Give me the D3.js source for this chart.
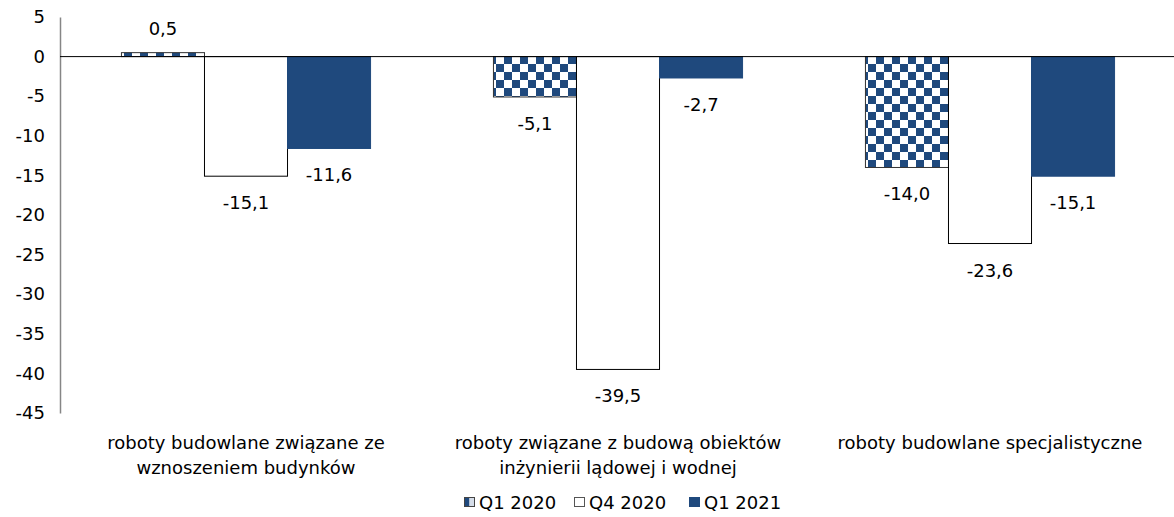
<!DOCTYPE html>
<html>
<head>
<meta charset="utf-8">
<script src="https://cdn.jsdelivr.net/npm/d3@7"></script>
<style>
  body { margin: 0; background: #fff; }
  svg text { font-family: "DejaVu Sans", Verdana, sans-serif; fill: #000; font-size: 18px; }
</style>
</head>
<body>
<svg id="chart" width="1174" height="517"></svg>
<script>
// Categories (two-line labels) and series
const categories = [
  ["roboty budowlane związane ze", "wznoszeniem budynków"],
  ["roboty związane z budową obiektów", "inżynierii lądowej i wodnej"],
  ["roboty budowlane specjalistyczne"]
];
const seriesNames = ["Q1 2020", "Q4 2020", "Q1 2021"];
const q1_2020 = [0.5, -5.1, -14.0];
const q4_2020 = [-15.1, -39.5, -23.6];
const q1_2021 = [-11.6, -2.7, -15.1];
const yTicks = [5, 0, -5, -10, -15, -20, -25, -30, -35, -40, -45];

const seriesValues = [q1_2020, q4_2020, q1_2021];
const navy = "#1F497D";

const svg = d3.select("#chart");
const defs = svg.append("defs");
const pat = defs.append("pattern")
  .attr("id", "checker")
  .attr("patternUnits", "userSpaceOnUse")
  .attr("width", 16).attr("height", 16);
pat.append("rect").attr("width", 16).attr("height", 16).attr("fill", "#fff");
pat.append("rect").attr("width", 8).attr("height", 8).attr("fill", navy);
pat.append("rect").attr("x", 8).attr("y", 8).attr("width", 8).attr("height", 8).attr("fill", navy);

const fills = ["url(#checker)", "#fff", navy];
const strokes = ["#333", "#000", navy];

const margin = { left: 60, right: 0, top: 17, bottom: 104 };
const W = 1174, H = 517;

const y = d3.scaleLinear().domain([-45, 5]).range([H - margin.bottom, margin.top]);
const x0 = d3.scaleBand().domain(d3.range(categories.length))
  .range([margin.left, 1176]).paddingInner(0).paddingOuter(0);
const x1 = d3.scaleBand().domain(d3.range(seriesNames.length))
  .range([0, x0.bandwidth()]).paddingOuter(0.74).paddingInner(0);

const fmt = v => d3.format(".1f")(v).replace("−", "-").replace(".", ",");

// y axis
const yAxis = d3.axisLeft(y).tickValues(yTicks).tickSize(0).tickPadding(0)
  .tickFormat(d => String(d));
const gy = svg.append("g").attr("transform", `translate(${margin.left},0)`).call(yAxis);
gy.select(".domain").attr("stroke", "#868686").attr("stroke-width", 1.5);
gy.selectAll("text")
  .attr("x", -15)
  .attr("text-anchor", "end")
  .attr("font-family", null)
  .attr("font-size", null);

// bars
const groups = svg.append("g").selectAll("g")
  .data(categories).join("g")
  .attr("transform", (d, i) => `translate(${x0(i)},0)`);

groups.each(function(_, ci) {
  const g = d3.select(this);
  seriesValues.forEach((vals, si) => {
    const v = vals[ci];
    g.append("rect")
      .attr("x", x1(si))
      .attr("y", y(Math.max(0, v)))
      .attr("width", x1.bandwidth())
      .attr("height", Math.abs(y(v) - y(0)))
      .attr("fill", fills[si])
      .attr("stroke", strokes[si])
      .attr("stroke-width", 1);
    g.append("text")
      .attr("x", x1(si) + x1.bandwidth() / 2)
      .attr("y", v >= 0 ? y(v) - 18 : y(v) + 33)
      .attr("text-anchor", "middle")
      .text(fmt(v));
  });
  // category label
  const lines = categories[ci];
  g.append("text")
    .attr("x", x0.bandwidth() / 2)
    .attr("y", 448.5)
    .attr("text-anchor", "middle")
    .selectAll("tspan").data(lines).join("tspan")
    .attr("x", x0.bandwidth() / 2)
    .attr("dy", (d, i) => i === 0 ? 0 : 25)
    .text(d => d);
});

// zero line
svg.append("line")
  .attr("x1", margin.left).attr("x2", W)
  .attr("y1", y(0)).attr("y2", y(0))
  .attr("stroke", "#000").attr("stroke-width", 1);

// legend
const legendX = [464, 574, 689];
const lg = svg.append("g");
seriesNames.forEach((name, i) => {
  const item = lg.append("g").attr("transform", `translate(${legendX[i]},502)`);
  if (i === 0) {
    item.append("rect").attr("x", 0.5).attr("y", -4.5).attr("width", 10).attr("height", 9)
      .attr("fill", "#fff").attr("stroke", "#444");
    item.append("rect").attr("x", 1).attr("y", -4).attr("width", 4.5).attr("height", 8).attr("fill", navy);
    item.append("rect").attr("x", 5.5).attr("y", -4).attr("width", 4.5).attr("height", 8).attr("fill", "#d5dde9");
  } else {
    item.append("rect").attr("x", 0.5).attr("y", -4.5).attr("width", 10).attr("height", 9)
      .attr("fill", fills[i]).attr("stroke", i === 1 ? "#555" : navy);
  }
  item.append("text").attr("x", 15).attr("y", 6.5).text(name);
});
</script>
</body>
</html>
